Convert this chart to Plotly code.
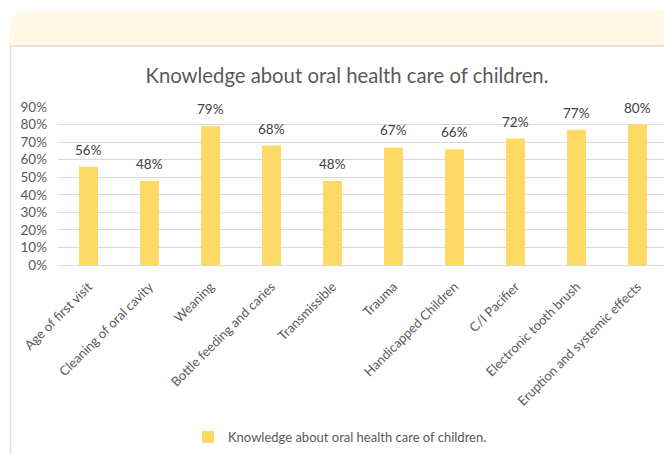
import plotly.graph_objects as go

categories = ["Age of first visit", "Cleaning of oral cavity", "Weaning",
              "Bottle feeding and caries", "Transmissible", "Trauma",
              "Handicapped Children", "C/I Pacifier", "Electronic tooth brush",
              "Eruption and systemic effects"]
values = [0.56, 0.48, 0.79, 0.68, 0.48, 0.67, 0.66, 0.72, 0.77, 0.80]
labels = ["56%", "48%", "79%", "68%", "48%", "67%", "66%", "72%", "77%", "80%"]
series_name = "Knowledge about oral health care of children."
y_ticks = [0, 0.1, 0.2, 0.3, 0.4, 0.5, 0.6, 0.7, 0.8, 0.9]

# page is offset by the 8px body margin; work in page pixels and convert
OFF = 8
PAGE_W, PAGE_H = 672, 454
W, H = PAGE_W - OFF, PAGE_H - OFF
PL, PR, PT, PB = 58, 668, 107, 265  # plot area in page pixels
ML, MR, MT, MB = PL - OFF, PAGE_W - PR, PT - OFF, PAGE_H - PB
PW, PH = W - ML - MR, H - MT - MB

def px(x):
    return (x - PL) / PW

def py(y):
    return (PB - y) / PH

FONT = "Lato"

fig = go.Figure()
fig.add_trace(go.Bar(
    x=categories, y=values, name=series_name,
    marker=dict(color="#FFD966", line=dict(width=0)),
    width=0.31,
))

annotations = [
    dict(x=c, y=v, text=t, xref="x", yref="y", showarrow=False,
         xanchor="center", yanchor="bottom", yshift=7,
         font=dict(family=FONT, size=13.5, color="#404040"))
    for c, v, t in zip(categories, values, labels)
]

r = 22
band = (f"M {px(9)} {py(45)} L {px(9)} {py(10 + r)} "
        f"Q {px(9)} {py(10)} {px(9 + r)} {py(10)} "
        f"L {px(680)} {py(10)} L {px(680)} {py(45)} Z")
shapes = [
    dict(type="path", xref="paper", yref="paper", path=band,
         fillcolor="#FFF9E5", line=dict(width=0), layer="below"),
    dict(type="line", xref="paper", yref="paper", x0=px(10.5), x1=px(10.5),
         y0=py(46), y1=py(460), line=dict(color="#D9D9D9", width=1.5), layer="below"),
    dict(type="line", xref="paper", yref="paper", x0=px(10), x1=px(680),
         y0=py(46), y1=py(46), line=dict(color="#D9D9D9", width=1.5), layer="below"),
]

fig.update_layout(
    width=W, height=H,
    margin=dict(l=ML, r=MR, t=MT, b=MB, autoexpand=False),
    paper_bgcolor="white", plot_bgcolor="white",
    title=dict(text=series_name, x=(347 - OFF) / W, xref="container", xanchor="center",
               y=1 - (76 - OFF) / H, yref="container", yanchor="middle",
               font=dict(family=FONT, size=20.3, color="#595959")),
    bargap=0.69,
    showlegend=True,
    legend=dict(orientation="h", x=(340 - OFF) / W, xref="container", xanchor="center",
                y=1 - (437 - OFF) / H, yref="container", yanchor="middle",
                font=dict(family=FONT, size=13, color="#595959"),
                itemwidth=30, bgcolor="rgba(0,0,0,0)"),
    shapes=shapes,
    annotations=annotations,
    xaxis=dict(tickangle=-45, tickfont=dict(family=FONT, size=13, color="#595959"),
               ticklabelstandoff=8,
               showgrid=False, showline=True, linecolor="#D9D9D9", linewidth=1,
               ticks="", fixedrange=True),
    yaxis=dict(range=[0, 0.9], tickvals=y_ticks, tickformat=".0%",
               tickfont=dict(family=FONT, size=13.5, color="#595959"),
               ticklabelstandoff=10,
               showgrid=True, gridcolor="#D9D9D9", gridwidth=1,
               zeroline=False, showline=False, ticks="", fixedrange=True),
)

fig.write_html("out.html")
